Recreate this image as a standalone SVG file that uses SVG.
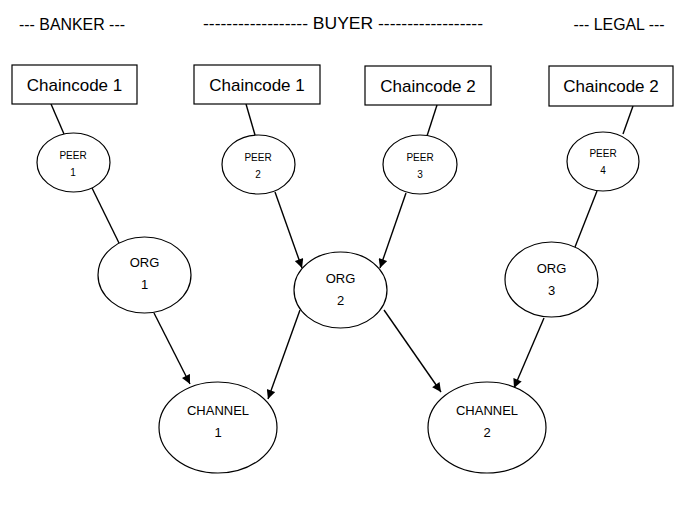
<svg xmlns="http://www.w3.org/2000/svg" width="680" height="507" viewBox="0 0 680 507">
<style>
text{font-family:"Liberation Sans",Arial,sans-serif;fill:#000;text-anchor:middle}
.box{fill:#fff;stroke:#000;stroke-width:1.2}
.ell{fill:#fff;stroke:#000;stroke-width:1.2}
.hdr{font-size:16px}
.cc{font-size:17px}
.peer{font-size:10px}
.org{font-size:13px}
.ch{font-size:13px}
.con{stroke:#000;stroke-width:1.4;fill:none}
</style>
<defs>
<marker id="ah" viewBox="0 0 10 10" refX="10" refY="5" markerWidth="10" markerHeight="9" markerUnits="userSpaceOnUse" orient="auto">
<path d="M0,0 L10,5 L0,10 Z" fill="#000"/>
</marker>
</defs>
<rect width="680" height="507" fill="#fff"/>
<g id="headers">
<text class="hdr" x="72" y="30" textLength="106" lengthAdjust="spacingAndGlyphs">--- BANKER ---</text>
<text class="hdr" x="343" y="29" textLength="280" lengthAdjust="spacingAndGlyphs">------------------ BUYER ------------------</text>
<text class="hdr" x="619" y="30" textLength="91" lengthAdjust="spacingAndGlyphs">--- LEGAL ---</text>
</g>
<g id="connectors">
<line class="con" x1="51" y1="104" x2="64" y2="134"/>
<line class="con" x1="246" y1="104" x2="255" y2="135"/>
<line class="con" x1="437" y1="105" x2="427" y2="136"/>
<line class="con" x1="633" y1="106" x2="623" y2="134"/>
<line class="con" x1="92" y1="188" x2="119" y2="243"/>
<line class="con" x1="597" y1="191" x2="575" y2="247"/>
<line class="con" x1="275" y1="192" x2="302" y2="268" marker-end="url(#ah)"/>
<line class="con" x1="406" y1="193" x2="380" y2="268" marker-end="url(#ah)"/>
<line class="con" x1="154" y1="313" x2="190" y2="384" marker-end="url(#ah)"/>
<line class="con" x1="300" y1="310" x2="268" y2="399" marker-end="url(#ah)"/>
<line class="con" x1="384" y1="310" x2="441" y2="392" marker-end="url(#ah)"/>
<line class="con" x1="544" y1="318" x2="514" y2="388" marker-end="url(#ah)"/>
</g>
<g id="cc1"><rect class="box" x="12" y="65" width="125" height="39"/><text class="cc" x="74.5" y="91">Chaincode 1</text></g>
<g id="cc2"><rect class="box" x="194" y="65" width="126" height="39"/><text class="cc" x="257" y="91">Chaincode 1</text></g>
<g id="cc3"><rect class="box" x="365" y="66" width="126" height="39"/><text class="cc" x="428" y="92">Chaincode 2</text></g>
<g id="cc4"><rect class="box" x="549" y="66" width="124" height="40"/><text class="cc" x="611" y="92">Chaincode 2</text></g>
<g id="peer1"><ellipse class="ell" cx="73.5" cy="162.5" rx="36.5" ry="29.5"/><text class="peer" x="73" y="159">PEER</text><text class="peer" x="73" y="176">1</text></g>
<g id="peer2"><ellipse class="ell" cx="258.5" cy="164.5" rx="36.5" ry="29.5"/><text class="peer" x="258" y="161">PEER</text><text class="peer" x="258" y="178">2</text></g>
<g id="peer3"><ellipse class="ell" cx="420" cy="164.5" rx="37" ry="29.5"/><text class="peer" x="420" y="161">PEER</text><text class="peer" x="420" y="178">3</text></g>
<g id="peer4"><ellipse class="ell" cx="603" cy="161.5" rx="36" ry="29.5"/><text class="peer" x="603" y="157">PEER</text><text class="peer" x="603" y="174">4</text></g>
<g id="org1"><ellipse class="ell" cx="144.5" cy="275" rx="46.5" ry="38"/><text class="org" x="144.5" y="267">ORG</text><text class="org" x="144.5" y="289">1</text></g>
<g id="org2"><ellipse class="ell" cx="340.5" cy="290" rx="46.5" ry="38"/><text class="org" x="340.5" y="283">ORG</text><text class="org" x="340.5" y="305">2</text></g>
<g id="org3"><ellipse class="ell" cx="551.5" cy="279.5" rx="46.5" ry="37.5"/><text class="org" x="551.5" y="273">ORG</text><text class="org" x="551.5" y="295">3</text></g>
<g id="channel1"><ellipse class="ell" cx="218" cy="427.5" rx="59" ry="45.5"/><text class="ch" x="218" y="415">CHANNEL</text><text class="ch" x="218" y="437">1</text></g>
<g id="channel2"><ellipse class="ell" cx="487" cy="427.5" rx="59" ry="45.5"/><text class="ch" x="487" y="415">CHANNEL</text><text class="ch" x="487" y="437">2</text></g>
</svg>
